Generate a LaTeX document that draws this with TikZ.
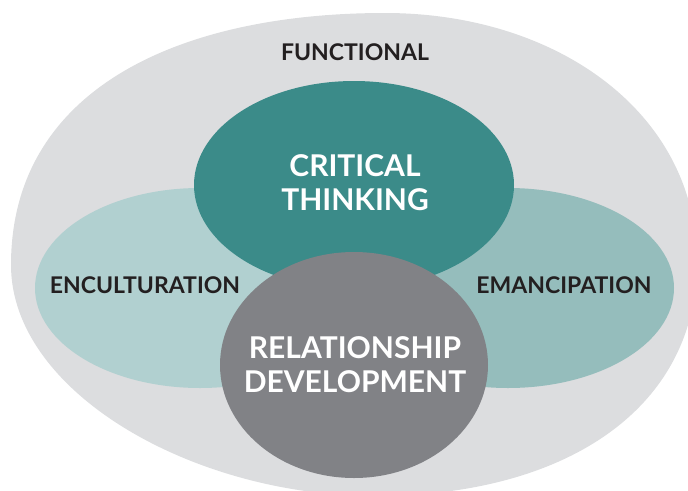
\documentclass[tikz,border=0pt]{standalone}
\usepackage{fontspec}
\usepackage{xcolor}
\usepackage{tikz}
\usetikzlibrary{shapes.geometric, positioning}
\setmainfont{Lato}
\newfontfamily\labelfont{Lato Bold}
\definecolor{outerGray}{HTML}{DCDDDF}
\definecolor{cultureTeal}{HTML}{B1D0D0}
\definecolor{freeTeal}{HTML}{95BDBC}
\definecolor{thinkTeal}{HTML}{3B8B89}
\definecolor{relateGray}{HTML}{818286}
\definecolor{inkDark}{HTML}{231F20}

\begin{document}
\begin{tikzpicture}[
    x=1pt, y=-1pt,
    blob/.style={ellipse, inner sep=0pt},
    bigtext/.style={align=center, text=white, font=\labelfont\fontsize{30}{34}\selectfont},
    sidetext/.style={text=inkDark, font=\labelfont\fontsize{23}{26}\selectfont}
]
\useasboundingbox (0,0) rectangle (688,490);
\clip (0,0) rectangle (688,490);

% functional field behind everything (wider at the top)
\fill[outerGray] (11,265) .. controls (11,89) and (179,13) .. (385,13)
    .. controls (557,13) and (697,113) .. (697,262)
    .. controls (697,407) and (568,496) .. (375,496)
    .. controls (193,496) and (11,392) .. (11,265) -- cycle;

\node[blob, fill=cultureTeal, minimum width=330pt, minimum height=200pt] (encult) at (200,288) {};
\node[blob, fill=freeTeal, minimum width=332pt, minimum height=200pt] (emanc) at (508,288) {};
\node[blob, fill=thinkTeal, minimum width=320pt, minimum height=208pt] (critical) at (354,185) {};
\node[blob, fill=relateGray, minimum width=268pt, minimum height=226pt] (relation) at (354,365) {};

\node[sidetext] (functional) at (355,52) {FUNCTIONAL};
\node[sidetext] (encultText) at (145,285) {ENCULTURATION};
\node[sidetext] (emancText) at (564,285) {EMANCIPATION};
\node[bigtext] (criticalText) at (355,183) {CRITICAL\\THINKING};
\node[bigtext] (relationText) at (355,365) {RELATIONSHIP\\DEVELOPMENT};

\end{tikzpicture}
\end{document}
